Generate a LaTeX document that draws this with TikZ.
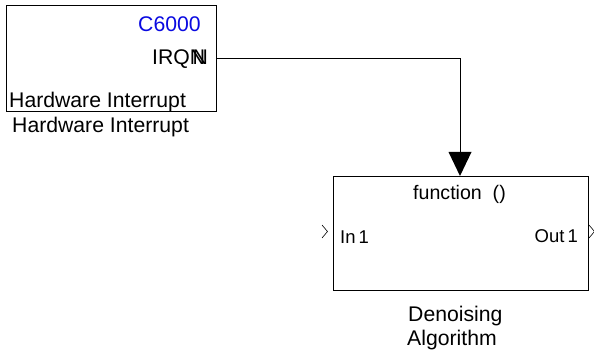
\documentclass[tikz,border=0pt]{standalone}
\usepackage{fontspec}
\setmainfont{Liberation Sans}
\definecolor{simblue}{RGB}{10,10,225}
\begin{document}
\begin{tikzpicture}[x=1pt,y=-1pt,
  blk/.style={draw=black,line width=1pt,fill=white},
  lbl/.style={inner sep=0pt,anchor=base west,font=\fontsize{21.2}{25}\selectfont},
  plbl/.style={inner sep=0pt,font=\fontsize{18.5}{22}\selectfont},
  wire/.style={draw=black,line width=0.9pt},
  port/.style={draw=black,line width=0.6pt}]
\useasboundingbox (0,0) rectangle (594,355);
% Hardware interrupt block
\node[blk,minimum width=210pt,minimum height=106pt,inner sep=0pt,anchor=north west] (hw) at (6,5) {};
\node[lbl,text=simblue] (c6000) at (138,32) {C6000};
\node[lbl] (irq) at (152,65) {IRQ\rlap{N}\hspace{2.6pt}N};
\node[lbl] (hwin) at (9,107.5) {Hardware Interrupt};
\node[lbl] (hwname) at (12,133) {Hardware Interrupt};
% Denoising block
\node[blk,minimum width=255pt,minimum height=114pt,inner sep=0pt,anchor=north west] (den) at (333,176) {};
\node[lbl,font=\fontsize{19.6}{24}\selectfont] (fun) at (413,200) {function\ \ ()};
\node[plbl,anchor=base west] (in1) at (340,244) {In\,1};
\node[plbl,anchor=base east] (out1) at (578,243) {Out\,1};
\node[lbl] (dn) at (408,321) {Denoising};
\node[lbl] (alg) at (407,345) {Algorithm};
% ports
\coordinate (hwport) at (216,58);
\coordinate (corner) at (460,58);
\coordinate (tip) at (460,176);
\coordinate (base) at (460,152);
\draw[wire] (hwport) -- (corner) -- (base);
\fill[black] (448.5,152) -- (471.5,152) -- (tip) -- cycle;
\draw[port] (322,225) -- (327.5,231.5) -- (322,238);
\draw[port] (589,225) -- (594.5,231.5) -- (589,238);
\end{tikzpicture}
\end{document}
